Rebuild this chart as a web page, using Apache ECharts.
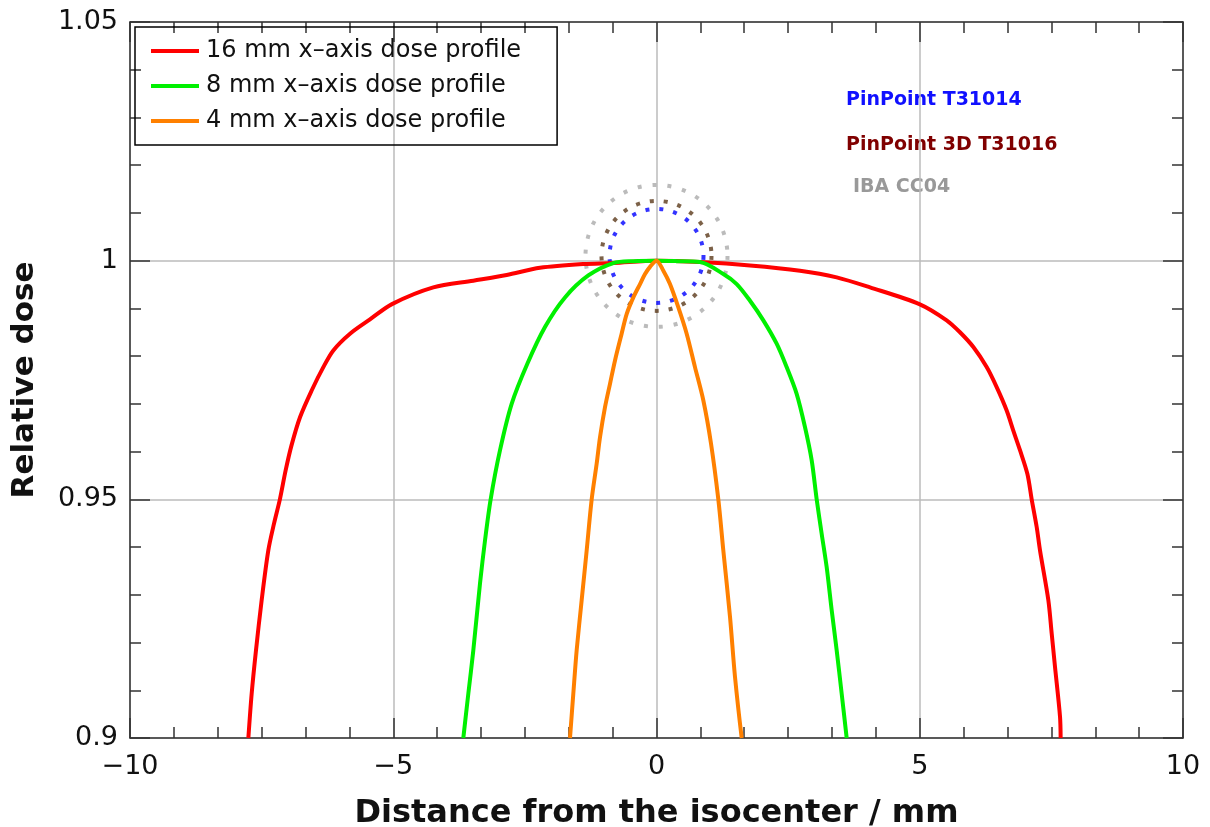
<!DOCTYPE html>
<html>
<head>
<meta charset="utf-8">
<script src="https://cdn.jsdelivr.net/npm/echarts@6/dist/echarts.min.js"></script>
<style>
  html, body { margin: 0; padding: 0; background: #fff; }
  #chart { width: 1210px; height: 827px; }
</style>
</head>
<body>
<div id="chart"></div>
<script>
// 16 mm profile
var redX = [-7.752, -7.689, -7.607, -7.499, -7.373, -7.265, -7.151, -7.045, -6.935, -6.771, -6.550, -6.328, -6.138, -5.821, -5.442, -5.024,
            -4.239, -3.479, -2.846, -2.213, -1.390, -0.820, 0,
            0.826, 1.776, 2.726, 3.422, 4.055, 4.992, 5.511, 5.764, 6.018, 6.271, 6.461, 6.651, 6.777, 6.904, 7.045, 7.126,
            7.221, 7.284, 7.442, 7.506, 7.569, 7.664, 7.676];
var redY = [0.9, 0.9093, 0.9184, 0.9289, 0.9393, 0.9449, 0.9501, 0.9560, 0.9612, 0.9672, 0.9728, 0.9777, 0.9812, 0.9847, 0.9877, 0.9909,
            0.9944, 0.9958, 0.9970, 0.9985, 0.9993, 0.9995, 1.0,
            0.9997, 0.9990, 0.9979, 0.9965, 0.9944, 0.9909, 0.9875, 0.9850, 0.9819, 0.9777, 0.9735, 0.9686, 0.9644, 0.9603, 0.9553, 0.9500,
            0.9442, 0.9393, 0.9289, 0.9219, 0.9149, 0.9045, 0.9];
// 8 mm profile
var greenX = [-3.669, -3.574, -3.479, -3.352, -3.257, -3.150, -2.972, -2.751, -2.453, -2.118, -1.738, -1.295, -0.820, -0.440, 0,
              0.383, 0.826, 1.269, 1.523, 1.776, 2.029, 2.282, 2.472, 2.662, 2.821, 2.947, 3.042, 3.137, 3.232, 3.327, 3.422, 3.517, 3.612];
var greenY = [0.9, 0.9093, 0.9184, 0.9324, 0.9414, 0.9500, 0.9603, 0.9700, 0.9784, 0.9861, 0.9923, 0.9969, 0.9995, 0.9999, 1.0,
              0.9999, 0.9997, 0.9972, 0.9951, 0.9916, 0.9875, 0.9826, 0.9777, 0.9721, 0.9651, 0.9582, 0.9500, 0.9428, 0.9358, 0.9268, 0.9184, 0.9093, 0.9];
// 4 mm profile
var orangeX = [-1.643, -1.580, -1.516, -1.421, -1.326, -1.231, -1.136, -1.073, -0.978, -0.883, -0.788, -0.662, -0.567, -0.440, -0.313, -0.218, -0.123, 0,
               0.130, 0.256, 0.415, 0.573, 0.731, 0.890, 1.035, 1.174, 1.269, 1.396, 1.491, 1.618];
var orangeY = [0.9, 0.9093, 0.9184, 0.9289, 0.9393, 0.9500, 0.9575, 0.9630, 0.9693, 0.9742, 0.9791, 0.9847, 0.9888, 0.9923, 0.9951, 0.9972, 0.9987, 1.0,
               0.9979, 0.9951, 0.9902, 0.9847, 0.9777, 0.9707, 0.9617, 0.9500, 0.9393, 0.9254, 0.9128, 0.9];

var seriesNames = ['16 mm x–axis dose profile', '8 mm x–axis dose profile', '4 mm x–axis dose profile'];
// detector outlines, centred at the isocenter
var detectorNames = ['PinPoint T31014', 'PinPoint 3D T31016', 'IBA CC04'];
var detectorCenter = [0, 1.001];

function pairs(xs, ys) {
  return xs.map(function (x, i) { return [x, ys[i]]; });
}

var chart = echarts.init(document.getElementById('chart'));
var font = 'DejaVu Sans';
var axisColor = '#333';

function xTick(v) { return v < 0 ? '\u2212' + (-v) : String(v); }
function yTick(v) { return String(+v.toFixed(2)); }

var baseX = {
  type: 'value', min: -10, max: 10, interval: 5,
  axisLine: { show: true, onZero: false, lineStyle: { color: axisColor, width: 1.5 } },
  axisTick: { show: true, inside: true, length: 20, lineStyle: { color: axisColor, width: 1.5 } },
  minorTick: { show: true, splitNumber: 6, length: 11, lineStyle: { color: axisColor, width: 1.5 } }
};
var baseY = {
  type: 'value', min: 0.9, max: 1.05, interval: 0.05,
  axisLine: { show: true, onZero: false, lineStyle: { color: axisColor, width: 1.5 } },
  axisTick: { show: true, inside: true, length: 20, lineStyle: { color: axisColor, width: 1.5 } },
  minorTick: { show: true, splitNumber: 5, length: 11, lineStyle: { color: axisColor, width: 1.5 } }
};

function profile(name, data, color) {
  return {
    name: name, type: 'line', data: data, smooth: 0.3,
    showSymbol: false, color: color, lineStyle: { width: 4 }, z: 3
  };
}

function detector(name, size, color, dash) {
  return {
    name: name, type: 'scatter', data: [detectorCenter],
    symbol: 'circle', symbolSize: size, silent: true, z: 1,
    itemStyle: { color: 'transparent', borderColor: color, borderWidth: 4, borderType: dash }
  };
}

var option = {
  backgroundColor: '#fff',
  animation: false,
  grid: { left: 130, right: 27, top: 22, bottom: 89, outerBoundsMode: 'none', containLabel: false },
  legend: {
    data: seriesNames,
    orient: 'vertical',
    left: 135, top: 27,
    padding: [12, 36, 12, 16],
    itemGap: 11,
    itemWidth: 48, itemHeight: 4,
    icon: 'rect',
    borderColor: '#000', borderWidth: 1.5,
    textStyle: { fontFamily: font, fontSize: 24, lineHeight: 24, color: '#111', padding: [0, 0, 0, 2] }
  },
  graphic: [
    { type: 'text', left: 846, top: 91, style: { text: detectorNames[0], fill: '#1010ff', font: 'bold 19px "DejaVu Sans"' } },
    { type: 'text', left: 846, top: 136, style: { text: detectorNames[1], fill: '#800000', font: 'bold 19px "DejaVu Sans"' } },
    { type: 'text', left: 853, top: 178, style: { text: detectorNames[2], fill: '#999', font: 'bold 19px "DejaVu Sans"' } }
  ],
  xAxis: [
    Object.assign({}, baseX, {
      position: 'bottom',
      name: 'Distance from the isocenter / mm',
      nameLocation: 'middle', nameGap: 60,
      nameTextStyle: { fontFamily: font, fontSize: 32, fontWeight: 'bold', color: '#111' },
      axisLabel: { formatter: xTick, fontFamily: font, fontSize: 27, color: '#111', margin: 15 },
      splitLine: { show: true, lineStyle: { color: '#bbb', width: 1.5 } }
    }),
    Object.assign({}, baseX, {
      position: 'top',
      axisLabel: { show: false },
      splitLine: { show: false }
    })
  ],
  yAxis: [
    Object.assign({}, baseY, {
      position: 'left',
      name: 'Relative dose',
      nameLocation: 'middle', nameGap: 90,
      nameTextStyle: { fontFamily: font, fontSize: 31, fontWeight: 'bold', color: '#111' },
      axisLabel: { formatter: yTick, fontFamily: font, fontSize: 27, color: '#111', margin: 12 },
      splitLine: { show: true, lineStyle: { color: '#bbb', width: 1.5 } }
    }),
    Object.assign({}, baseY, {
      position: 'right',
      axisLabel: { show: false },
      splitLine: { show: false }
    })
  ],
  series: [
    detector(detectorNames[2], 142, '#aaa', [4, 11]),
    detector(detectorNames[1], 110, '#5b3a1a', [4, 10]),
    detector(detectorNames[0], 94, '#0000ff', [4, 10]),
    profile(seriesNames[0], pairs(redX, redY), '#ff0000'),
    profile(seriesNames[1], pairs(greenX, greenY), '#00f000'),
    profile(seriesNames[2], pairs(orangeX, orangeY), '#ff8000')
  ]
};
chart.setOption(option);
</script>
</body>
</html>
